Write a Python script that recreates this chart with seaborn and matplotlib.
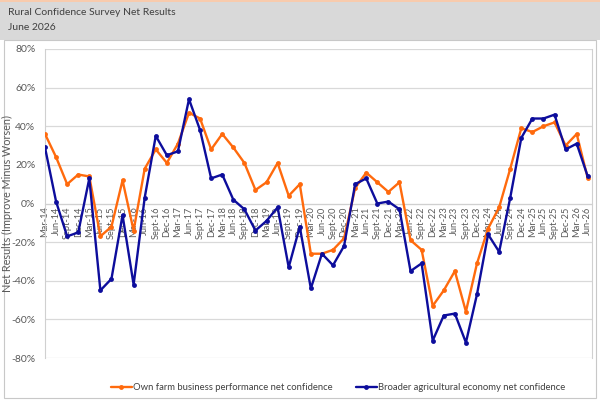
import pandas as pd
import seaborn as sns
import matplotlib.pyplot as plt
from matplotlib.lines import Line2D
from matplotlib.patches import Rectangle

quarters = ['Mar', 'Jun', 'Sept', 'Dec']
labels = [f'{q}-{y}' for y in range(14, 27) for q in quarters][:50]

own_farm = [36, 24, 10, 15, 14, -17, -12, 12, -14, 18,
            28, 21, 31, 47, 44, 28, 36, 29, 21, 7,
            11, 21, 4, 10, -26, -26, -24, -18, 8, 16,
            11, 6, 11, -19, -24, -53, -45, -35, -56, -31,
            -13, -2, 18, 39, 37, 40, 42, 30, 36, 13]
broader = [29, 1, -17, -15, 13, -45, -39, -6, -42, 3,
           35, 25, 27, 54, 38, 13, 15, 2, -3, -14,
           -9, -2, -33, -12, -44, -26, -32, -22, 10, 13,
           0, 1, -3, -35, -31, -71, -58, -57, -72, -47,
           -16, -25, 3, 34, 44, 44, 46, 28, 31, 14]

names = ['Own farm business performance net confidence',
         'Broader agricultural economy net confidence']
colors = ['#ff6a0d', '#0d0d9c']

df = pd.DataFrame({
    'pos': list(range(len(labels))) * 2,
    'value': own_farm + broader,
    'series': [names[0]] * len(labels) + [names[1]] * len(labels),
})

sns.set_style('white')
plt.rcParams['font.family'] = ['Lato', 'DejaVu Sans']
fig = plt.figure(figsize=(6, 4), dpi=100)

# header band and chart frame
fig.patches.append(Rectangle((0, 0.9), 1, 0.1, transform=fig.transFigure,
                             facecolor='#d9d9d9', edgecolor='none', zorder=-10))
fig.patches.append(Rectangle((0, 0.995), 1, 0.005, transform=fig.transFigure,
                             facecolor='#f8cbad', edgecolor='none', zorder=-10))
fig.patches.append(Rectangle((0.006, 0.005), 0.988, 0.895, transform=fig.transFigure,
                             facecolor='white', edgecolor='#c8c8c8', lw=0.8, zorder=-10))
fig.text(0.013, 0.968, 'Rural Confidence Survey Net Results', fontsize=7.5,
         color='#404040', va='center')
fig.text(0.013, 0.932, 'June 2026', fontsize=7.5, color='#404040', va='center')

ax = fig.add_axes([0.075, 0.105, 0.912, 0.7725])
ax.set_zorder(5)
sns.lineplot(data=df, x='pos', y='value', hue='series', palette=colors,
             marker='o', markersize=3.5, markeredgewidth=0, linewidth=1.7,
             legend=False, ax=ax, zorder=3)

# category axis crosses at 0%
ax.spines['bottom'].set_position(('data', 0))
for side in ['bottom', 'left', 'right']:
    ax.spines[side].set_color('#d0d0d0')
ax.spines['top'].set_visible(False)

ax.set_xlim(0, 49.4)
ax.set_ylim(-80, 80)
ax.set_yticks(range(-80, 81, 20))
ax.set_yticklabels([f'{v}%' for v in range(-80, 81, 20)])
ax.set_xticks(range(len(labels)))
ax.set_xticklabels(labels)
ax.yaxis.grid(True, color='#d9d9d9', lw=0.9)
ax.tick_params(axis='x', length=0, pad=2, labelsize=6.7, labelcolor='#595959',
               labelrotation=90)
ax.tick_params(axis='y', length=0, pad=7, labelsize=7.5, labelcolor='#595959')
ax.set_xlabel('')
ax.set_ylabel('Net Results (Improve Minus Worsen)', fontsize=7.8, color='#595959')
ax.yaxis.set_label_coords(-0.058, 0.5)

handles = [Line2D([], [], color=c, lw=1.7, marker='o', markersize=3.5,
                  markeredgewidth=0) for c in colors]
fig.legend(handles, names, loc='center', bbox_to_anchor=(0.563, 0.03),
           ncol=2, frameon=False, fontsize=6.8, handlelength=2.2,
           handletextpad=0.1, columnspacing=2.5, labelcolor='#404040')

fig.savefig('out.png', dpi=100)
